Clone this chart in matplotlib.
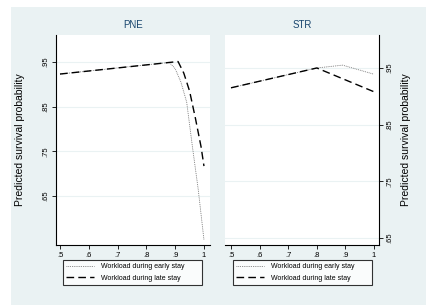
import matplotlib
matplotlib.use("Agg")
import matplotlib.pyplot as plt
from matplotlib.patches import Rectangle

plt.rcParams['font.family'] = ['Liberation Sans', 'DejaVu Sans']

# Predicted survival probability by workload, two units
panels = ["PNE", "STR"]
series_labels = ["Workload during early stay", "Workload during late stay"]

pne_early_x = [0.5, 0.88, 0.90, 0.92, 0.94, 0.96, 0.98, 1.0]
pne_early_y = [0.923, 0.949, 0.935, 0.905, 0.86, 0.76, 0.665, 0.552]
pne_late_x = [0.5, 0.91, 0.93, 0.95, 0.97, 0.99, 1.0]
pne_late_y = [0.923, 0.951, 0.925, 0.885, 0.825, 0.76, 0.717]

str_early_x = [0.5, 0.8, 0.89, 1.0]
str_early_y = [0.915, 0.95, 0.955, 0.939]
str_late_x = [0.5, 0.8, 1.0]
str_late_y = [0.915, 0.95, 0.908]

x_ticks = [0.5, 0.6, 0.7, 0.8, 0.9, 1.0]
x_ticklabels = [".5", ".6", ".7", ".8", ".9", "1"]
y_ticks = [0.65, 0.75, 0.85, 0.95]
y_ticklabels = [".65", ".75", ".85", ".95"]

BG = "#eaf2f3"
TITLE_C = "#1a476f"

fig = plt.figure(figsize=(4.26, 3.05), dpi=100)
fig.patch.set_facecolor(BG)
# thin white strips on the top and left edge
fig.patches.append(Rectangle((0, 1 - 7 / 305), 1, 7 / 305, transform=fig.transFigure,
                             facecolor="white", edgecolor="none", zorder=-10))
fig.patches.append(Rectangle((0, 0), 11 / 426, 1, transform=fig.transFigure,
                             facecolor="white", edgecolor="none", zorder=-10))

ax1 = fig.add_axes([56 / 426, 60 / 305, 154 / 426, 210 / 305])
ax2 = fig.add_axes([225 / 426, 60 / 305, 154 / 426, 210 / 305])

data = [
    (ax1, pne_early_x, pne_early_y, pne_late_x, pne_late_y, (0.5403, 1.0104), (0.486, 1.021)),
    (ax2, str_early_x, str_early_y, str_late_x, str_late_y, (0.6376, 1.0082), (0.479, 1.0175)),
]

for i, (ax, ex, ey, lx, ly, ylim, xlim) in enumerate(data):
    ax.set_facecolor("white")
    for yt in y_ticks:
        ax.axhline(yt, color=BG, lw=0.8, zorder=0)
    ax.plot(ex, ey, color="#666666", lw=0.6, linestyle=(0, (1, 1.2)), label=series_labels[0])
    ax.plot(lx, ly, color="black", lw=1.0, linestyle=(0, (5.5, 3)), label=series_labels[1])
    ax.set_xlim(*xlim)
    ax.set_ylim(*ylim)
    ax.set_xticks(x_ticks)
    ax.set_xticklabels(x_ticklabels)
    ax.set_yticks(y_ticks)
    ax.set_yticklabels(y_ticklabels, rotation=90, va="center")
    ax.tick_params(labelsize=5.5, length=3, width=0.6, pad=2, colors="black")
    ax.spines["top"].set_visible(False)
    ax.set_title(panels[i], fontsize=7, color=TITLE_C, pad=5)
    for s in ax.spines.values():
        s.set_linewidth(0.8)
    if i == 0:
        ax.spines["right"].set_visible(False)
        ax.set_ylabel("Predicted survival probability", fontsize=7.5, labelpad=12)
    else:
        ax.spines["left"].set_visible(False)
        ax.yaxis.tick_right()
        ax.yaxis.set_label_position("right")
        ax.set_ylabel("Predicted survival probability", fontsize=7.5, labelpad=6)
    leg = ax.legend(loc="upper left", bbox_to_anchor=((63 + (i * 170)) / 426, 42 / 305, 139 / 426, 0.01),
                    bbox_transform=fig.transFigure, fontsize=5, frameon=True, fancybox=False,
                    handlelength=4.0, borderpad=0.5, labelspacing=0.6, handletextpad=1.0,
                    borderaxespad=0, mode="expand")
    leg.get_frame().set_edgecolor("black")
    leg.get_frame().set_linewidth(0.8)

fig.savefig("out.png", dpi=100, facecolor=fig.get_facecolor())
